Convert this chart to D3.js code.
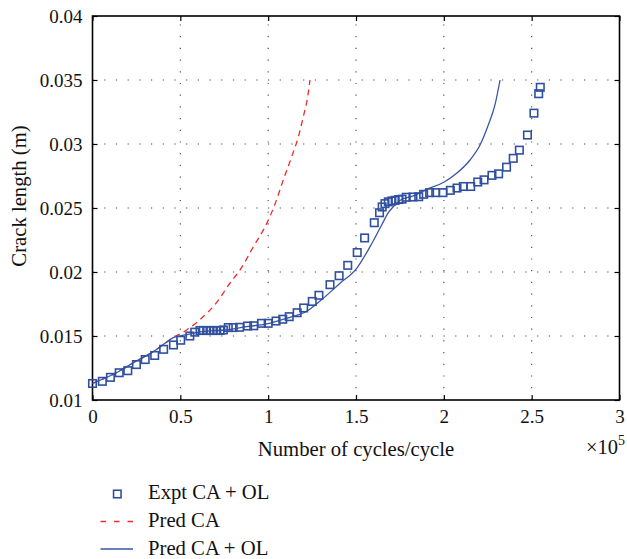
<!DOCTYPE html>
<html><head><meta charset="utf-8">
<script src="https://cdn.jsdelivr.net/npm/d3@7"></script>
<style>body{margin:0;background:#fff}svg{display:block}</style>
</head><body>
<svg id="c" width="627" height="559"></svg>
<script>
// ---- data ----
const xTicks = [0, 0.5, 1, 1.5, 2, 2.5, 3];
const xTickLabels = ["0", "0.5", "1", "1.5", "2", "2.5", "3"];
const yTicks = [0.01, 0.015, 0.02, 0.025, 0.03, 0.035, 0.04];
const yTickLabels = ["0.01", "0.015", "0.02", "0.025", "0.03", "0.035", "0.04"];
const seriesNames = ["Expt CA + OL", "Pred CA", "Pred CA + OL"];

// Experimental CA + OL (x in 1e5 cycles, crack length in m)
const exptX = [0.00, 0.056, 0.102, 0.152, 0.201, 0.250, 0.300, 0.354, 0.405, 0.461,
  0.502, 0.554, 0.582, 0.612, 0.631, 0.650, 0.669, 0.688, 0.707, 0.726,
  0.745, 0.773, 0.801, 0.837, 0.883, 0.918, 0.962, 1.000, 1.045, 1.083,
  1.120, 1.165, 1.202, 1.251, 1.289, 1.352, 1.404, 1.453, 1.507, 1.549,
  1.604, 1.634, 1.649, 1.665, 1.684, 1.704, 1.723, 1.743, 1.762, 1.786,
  1.824, 1.857, 1.885, 1.919, 1.954, 1.995, 2.037, 2.075, 2.111, 2.153,
  2.193, 2.229, 2.274, 2.312, 2.357, 2.395, 2.430, 2.476, 2.513, 2.540, 2.549];
const exptY = [0.01129, 0.01146, 0.01177, 0.01213, 0.01229, 0.01277, 0.01316, 0.01348, 0.01396, 0.01430,
  0.01467, 0.01500, 0.01530, 0.01543, 0.01543, 0.01543, 0.01543, 0.01543, 0.01543, 0.01543,
  0.01547, 0.01566, 0.01566, 0.01568, 0.01578, 0.01580, 0.01599, 0.01599, 0.01617, 0.01631,
  0.01651, 0.01682, 0.01719, 0.01770, 0.01818, 0.01901, 0.01971, 0.02052, 0.02152, 0.02266,
  0.02385, 0.02463, 0.02508, 0.02534, 0.02548, 0.02555, 0.02560, 0.02566, 0.02569, 0.02584,
  0.02586, 0.02588, 0.02607, 0.02620, 0.02620, 0.02620, 0.02638, 0.02656, 0.02668, 0.02668,
  0.02703, 0.02720, 0.02755, 0.02767, 0.02819, 0.02888, 0.02952, 0.03070, 0.03241, 0.03393, 0.03443];

// Predicted CA
const predCAX = [0, 0.147, 0.242, 0.337, 0.413, 0.460, 0.527, 0.612, 0.707, 0.783,
  0.840, 0.915, 0.992, 1.039, 1.086, 1.134, 1.172, 1.200, 1.228, 1.238];
const predCAY = [0.01130, 0.01221, 0.01299, 0.01370, 0.01443, 0.01488, 0.01539, 0.01629, 0.01762, 0.01914,
  0.02016, 0.02195, 0.02380, 0.02531, 0.02719, 0.02901, 0.03057, 0.03213, 0.03396, 0.03500];

// Predicted CA + OL
const predCAOLX = [0, 0.147, 0.242, 0.337, 0.413, 0.460, 0.527, 0.622, 0.754, 0.878,
  0.992, 1.105, 1.219, 1.295, 1.409, 1.504, 1.580, 1.646, 1.684, 1.712,
  1.750, 1.826, 1.902, 1.997, 2.073, 2.149, 2.206, 2.253, 2.291, 2.320];
const predCAOLY = [0.01130, 0.01221, 0.01299, 0.01370, 0.01443, 0.01488, 0.01508, 0.01534, 0.01547, 0.01573,
  0.01594, 0.01638, 0.01693, 0.01773, 0.01912, 0.02029, 0.02198, 0.02367, 0.02463, 0.02510,
  0.02559, 0.02594, 0.02646, 0.02699, 0.02771, 0.02875, 0.02992, 0.03148, 0.03305, 0.03500];

// ---- drawing ----
const FONT = "'Liberation Serif','DejaVu Serif',serif";
const FS = 19, FL = 20.7;
const blue = "#2f4f9f", blueLine = "#3a55a8", red = "#ee2a2a";
const L = 92.5, R = 619.5, T = 16, B = 400;

const svg = d3.select("#c");
const x = d3.scaleLinear().domain([0, 3]).range([L, R]);
const y = d3.scaleLinear().domain([0.01, 0.04]).range([B, T]);

// grid
const grid = svg.append("g").attr("stroke", "#444").attr("stroke-width", 1.1)
  .attr("stroke-dasharray", "1.2,10.5");
grid.selectAll(".gx").data(xTicks.slice(1, -1)).join("line")
  .attr("x1", d => x(d)).attr("x2", d => x(d)).attr("y1", B).attr("y2", T);
grid.selectAll(".gy").data(yTicks.slice(1, -1)).join("line")
  .attr("y1", d => y(d)).attr("y2", d => y(d)).attr("x1", L).attr("x2", R);

// axes
function styleAxis(g) {
  g.select(".domain").remove();
  g.selectAll(".tick line").attr("stroke", "#000").attr("stroke-width", 1.2);
  g.selectAll("text").attr("font-family", FONT).attr("font-size", FS).attr("fill", "#111");
}
svg.append("g").attr("transform", `translate(0,${B})`)
  .call(d3.axisBottom(x).tickValues(xTicks).tickFormat((d, i) => xTickLabels[i]).tickSize(-5).tickPadding(10))
  .call(styleAxis);
svg.append("g").attr("transform", `translate(${L},0)`)
  .call(d3.axisLeft(y).tickValues(yTicks).tickFormat((d, i) => yTickLabels[i]).tickSize(-5).tickPadding(10))
  .call(styleAxis);
svg.append("g").attr("transform", `translate(0,${T})`)
  .call(d3.axisTop(x).tickValues(xTicks).tickFormat("").tickSize(-5)).call(styleAxis);
svg.append("g").attr("transform", `translate(${R},0)`)
  .call(d3.axisRight(y).tickValues(yTicks).tickFormat("").tickSize(-5)).call(styleAxis);

// box
svg.append("rect").attr("x", L).attr("y", T).attr("width", R - L).attr("height", B - T)
  .attr("fill", "none").attr("stroke", "#000").attr("stroke-width", 1.6);

// lines
const line = d3.line().x(d => x(d[0])).y(d => y(d[1])).curve(d3.curveMonotoneX);
svg.append("path").datum(predCAX.map((v, i) => [v, predCAY[i]]))
  .attr("d", line).attr("fill", "none").attr("stroke", red).attr("stroke-width", 1.3)
  .attr("stroke-dasharray", "6,4.5");
svg.append("path").datum(predCAOLX.map((v, i) => [v, predCAOLY[i]]))
  .attr("d", line).attr("fill", "none").attr("stroke", blueLine).attr("stroke-width", 1.3);

// markers
const S = 7.5;
svg.append("g").selectAll("rect").data(exptX.map((v, i) => [v, exptY[i]])).join("rect")
  .attr("x", d => x(d[0]) - S / 2).attr("y", d => y(d[1]) - S / 2)
  .attr("width", S).attr("height", S)
  .attr("fill", "none").attr("stroke", blue).attr("stroke-width", 1.6);

// axis labels
svg.append("text").attr("x", (L + R) / 2).attr("y", 456).attr("text-anchor", "middle")
  .attr("font-family", FONT).attr("font-size", FL).attr("fill", "#111").text("Number of cycles/cycle");
svg.append("text").attr("transform", "translate(26,196) rotate(-90)").attr("text-anchor", "middle")
  .attr("font-family", FONT).attr("font-size", FL).attr("fill", "#111").text("Crack length (m)");
const ex = svg.append("text").attr("x", 586).attr("y", 454)
  .attr("font-family", FONT).attr("font-size", 20.5).attr("fill", "#111");
ex.append("tspan").text("×10");
ex.append("tspan").attr("dy", -9).attr("font-size", 14).text("5");

// legend
const lg = svg.append("g");
const rows = [499, 527, 555];
lg.append("rect").attr("x", 117.3 - S / 2).attr("y", 494 - S / 2).attr("width", S).attr("height", S)
  .attr("fill", "none").attr("stroke", blue).attr("stroke-width", 1.6);
lg.append("line").attr("x1", 100.5).attr("x2", 133).attr("y1", 521.5).attr("y2", 521.5)
  .attr("stroke", red).attr("stroke-width", 1.3).attr("stroke-dasharray", "5.5,8");
lg.append("line").attr("x1", 100.5).attr("x2", 133).attr("y1", 549).attr("y2", 549)
  .attr("stroke", blueLine).attr("stroke-width", 1.3);
lg.selectAll("text").data(seriesNames).join("text")
  .attr("x", 148).attr("y", (d, i) => rows[i])
  .attr("font-family", FONT).attr("font-size", FL).attr("fill", "#111").text(d => d);
</script>
</body></html>
